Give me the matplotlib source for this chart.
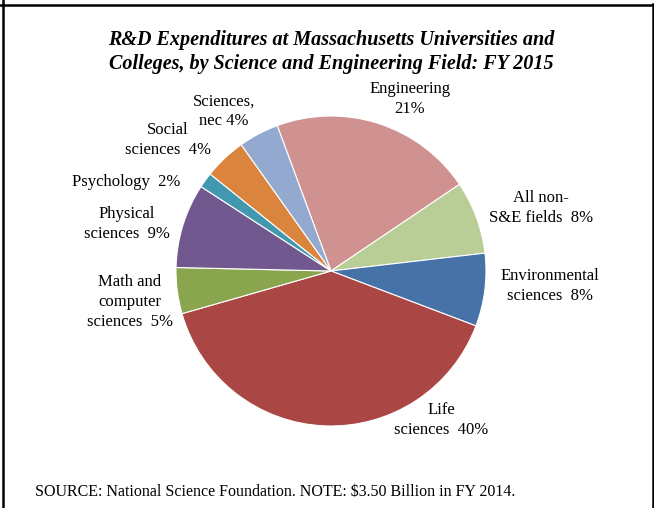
import matplotlib
matplotlib.use("Agg")
import matplotlib.pyplot as plt
from matplotlib.lines import Line2D

# shares of R&D expenditures (%), clockwise from the top
fields = ["Engineering", "All non-\nS&E fields", "Environmental\nsciences", "Life\nsciences",
          "Math and\ncomputer\nsciences", "Physical\nsciences", "Psychology", "Social\nsciences",
          "Sciences,\nnec"]
shares = [21.2, 7.6, 7.6, 39.8, 4.8, 8.8, 1.6, 4.4, 4.2]
label_seps = ["\n", "  ", "  ", "  ", "  ", "  ", "  ", "  ", " "]
colors = ["#D09191", "#B9CD96", "#4672A7", "#AA4644", "#89A54E",
          "#71588F", "#4198AF", "#DB843D", "#93A9CF"]

# label anchor points in figure pixels (x, y from top)
label_pos = [(410, 99), (541, 208), (550, 286), (441, 420), (130, 302),
             (127, 224), (126, 182), (168, 140), (224, 111)]

W, H = 654, 508
plt.rcParams['font.family'] = ['Liberation Serif', 'DejaVu Serif']

fig = plt.figure(figsize=(W / 100, H / 100), dpi=100)
fig.patch.set_facecolor("white")

# pie centre and radius in pixels
cx, cy, r = 331, 271, 155
ax = fig.add_axes([(cx - r) / W, (H - cy - r) / H, 2 * r / W, 2 * r / H])
ax.pie(shares, colors=colors, startangle=110.3, counterclock=False, radius=1,
       wedgeprops=dict(edgecolor="white", linewidth=0.8))
ax.set_xlim(-1, 1)
ax.set_ylim(-1, 1)
ax.set_aspect("equal")
ax.axis("off")

for name, sep, v, (px, py) in zip(fields, label_seps, shares, label_pos):
    fig.text(px / W, 1 - py / H, f"{name}{sep}{v:.0f}%", ha="center", va="center",
             fontsize=12, linespacing=1.3, multialignment="center")

fig.text(331 / W, 1 - 52 / H,
         "R&D Expenditures at Massachusetts Universities and\n"
         "Colleges, by Science and Engineering Field: FY 2015",
         ha="center", va="center", fontsize=14.5, fontweight="bold", fontstyle="italic",
         linespacing=1.2)

fig.text(35 / W, 1 - 492 / H,
         "SOURCE: National Science Foundation. NOTE: $3.50 Billion in FY 2014.",
         ha="left", va="center", fontsize=11.5)

# frame lines around the chart
for xs, ys in [((0, 653 / W), (1 - 5 / H, 1 - 5 / H)),
               ((3 / W, 3 / W), (0, 1)),
               ((653 / W, 653 / W), (0, 1 - 4 / H))]:
    fig.add_artist(Line2D(xs, ys, color="black", linewidth=1.8, transform=fig.transFigure))

fig.savefig("out.png", dpi=100)
